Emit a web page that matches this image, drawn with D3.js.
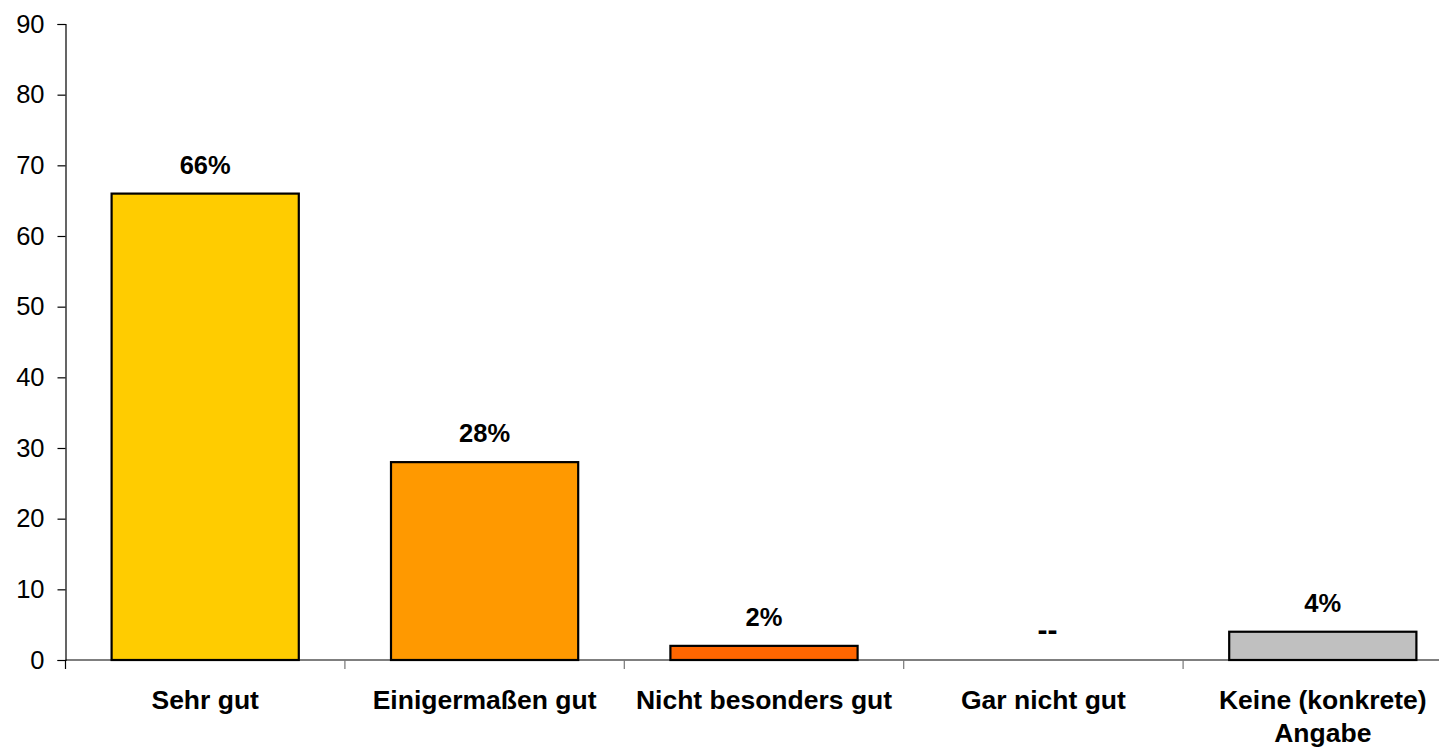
<!DOCTYPE html>
<html><head><meta charset="utf-8">
<script src="https://cdn.jsdelivr.net/npm/d3@7"></script>
<style>body{margin:0;background:#fff}svg{display:block}text{font-family:"Liberation Sans",Arial,sans-serif}</style>
</head><body>
<svg id="c" width="1439" height="748"></svg>
<script>
const categories = ["Sehr gut", "Einigermaßen gut", "Nicht besonders gut", "Gar nicht gut", "Keine (konkrete) Angabe"];
const categoryLines = [["Sehr gut"], ["Einigermaßen gut"], ["Nicht besonders gut"], ["Gar nicht gut"], ["Keine (konkrete)", "Angabe"]];
const values = [66, 28, 2, 0, 4];
const valueLabels = ["66%", "28%", "2%", "--", "4%"];
const colors = ["#FFCC00", "#FF9900", "#FF6600", "#FFFFFF", "#C0C0C0"];
const yTicks = [0, 10, 20, 30, 40, 50, 60, 70, 80, 90];

const svg = d3.select("#c");
const x0 = 65.5, x1 = 65.5 + 5 * 279.4, yTop = 24, yBot = 660;
const x = d3.scaleBand().domain(categories).range([x0, x1]).paddingInner(0.33).paddingOuter(0.165);
const y = d3.scaleLinear().domain([0, 90]).range([yBot, yTop]);

// y axis
const ya = svg.append("g").attr("transform", `translate(${x0},0)`)
  .call(d3.axisLeft(y).tickValues(yTicks).tickSize(8).tickPadding(13).tickFormat(d3.format("d")));
ya.select(".domain").attr("stroke", "#000").attr("stroke-width", 1.2);
ya.selectAll(".tick line").attr("stroke", "#000").attr("stroke-width", 1.2);
ya.selectAll(".tick text").attr("font-size", 25.5).attr("fill", "#000").attr("font-family", '"Liberation Sans",Arial,sans-serif');

// bars
svg.append("g").selectAll("rect").data(categories.map((c, i) => ({c, v: values[i], col: colors[i]})).filter(d => d.v > 0))
  .join("rect")
  .attr("x", d => x(d.c)).attr("width", x.bandwidth())
  .attr("y", d => y(d.v)).attr("height", d => y(0) - y(d.v))
  .attr("fill", d => d.col).attr("stroke", "#000").attr("stroke-width", 2.2);

// x axis line & ticks
svg.append("line").attr("x1", x0).attr("x2", x1).attr("y1", yBot).attr("y2", yBot).attr("stroke", "#000").attr("stroke-width", 1.2);
const bounds = d3.range(0, 6).map(i => x0 + i * x.step());
svg.append("g").selectAll("line").data(bounds).join("line")
  .attr("x1", d => d).attr("x2", d => d).attr("y1", yBot).attr("y2", yBot + 9)
  .attr("stroke", (d, i) => i === 0 ? "#000" : "#777").attr("stroke-width", 1.2);

// value labels
svg.append("g").selectAll("text").data(categories).join("text")
  .attr("x", d => x(d) + x.bandwidth() / 2)
  .attr("dx", (d, i) => values[i] === 0 ? 4 : 0)
  .attr("y", (d, i) => y(values[i]) - 20)
  .attr("text-anchor", "middle").attr("font-weight", "bold")
  .attr("font-size", (d, i) => values[i] === 0 ? 30 : 25.5)
  .text((d, i) => valueLabels[i]);

// category labels
const cl = svg.append("g").selectAll("text").data(categories).join("text")
  .attr("x", d => x(d) + x.bandwidth() / 2)
  .attr("y", 709)
  .attr("text-anchor", "middle").attr("font-weight", "bold").attr("font-size", 26.5);
cl.each(function(d, i) {
  d3.select(this).selectAll("tspan").data(categoryLines[i]).join("tspan")
    .attr("x", x(d) + x.bandwidth() / 2).attr("dy", (t, j) => j === 0 ? 0 : 33).text(t => t);
});
</script>
</body></html>
